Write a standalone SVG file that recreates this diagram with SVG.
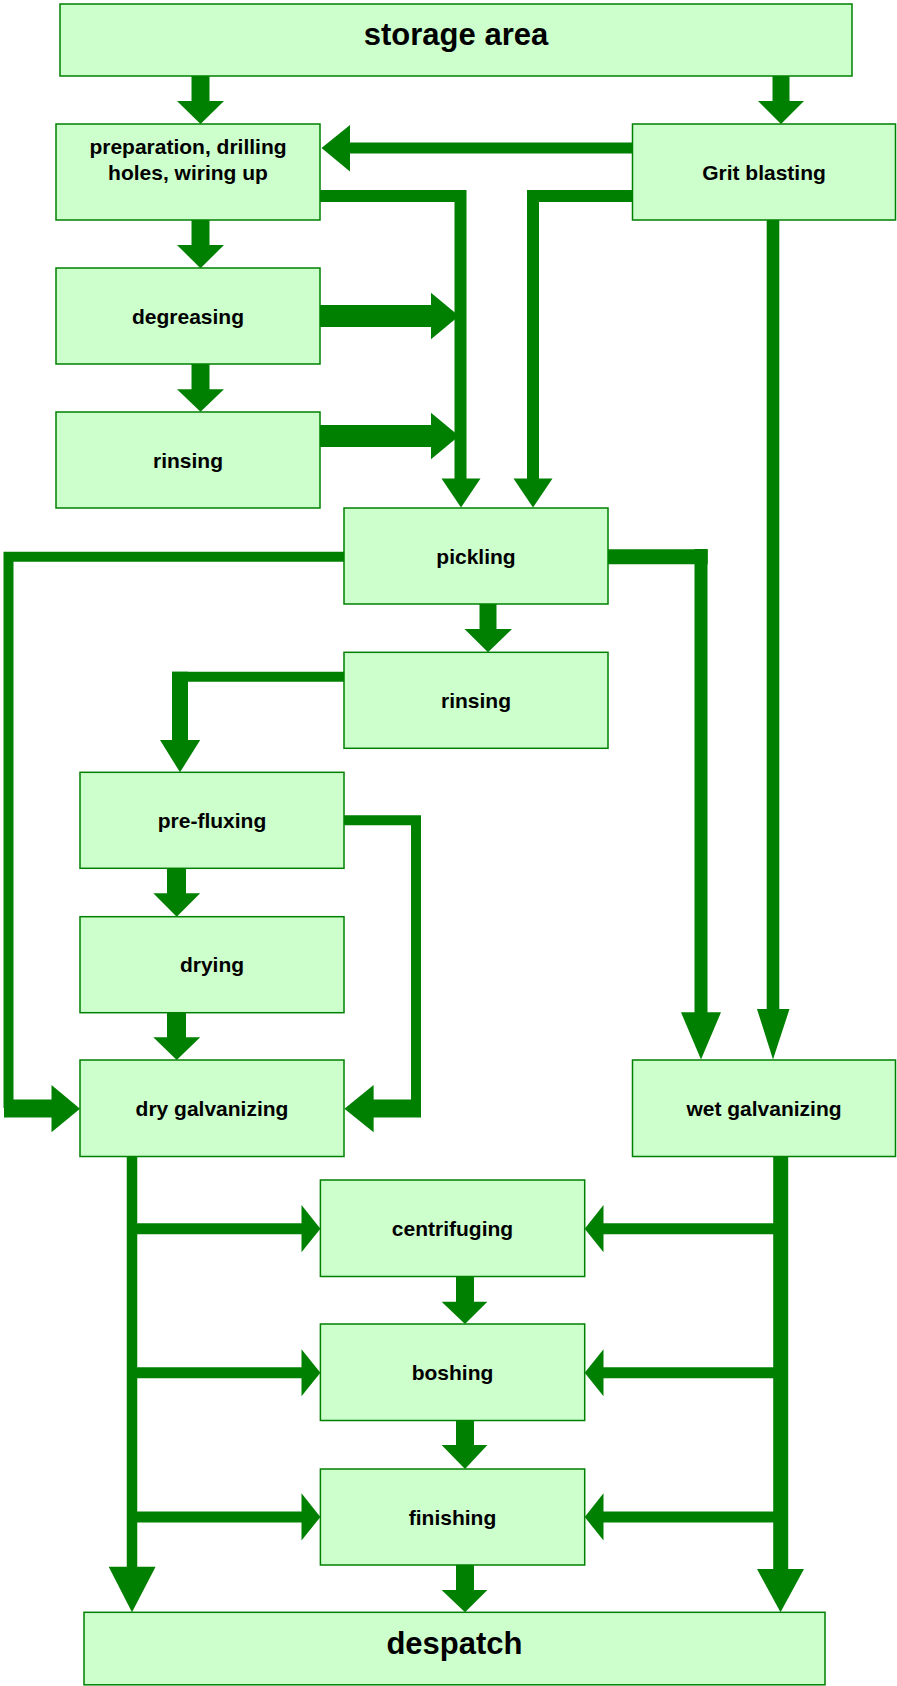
<svg xmlns="http://www.w3.org/2000/svg" width="897" height="1686" viewBox="0 0 897 1686">
<style>
.box{fill:#ccffcc;stroke:#008000;stroke-width:1.5}
.t{font-family:"Liberation Sans",Arial,sans-serif;font-weight:bold;font-size:21px;fill:#000;text-anchor:middle}
.tb{font-size:31px}
.c{stroke:#008000;fill:none;stroke-linecap:butt;stroke-linejoin:miter}
.h{fill:#008000;stroke:none}
</style>
<rect width="897" height="1686" fill="#ffffff"/>
<g id="connectors">
  <!-- storage -> prep -->
  <line class="c" x1="200.5" y1="76" x2="200.5" y2="102" stroke-width="18"/>
  <polygon class="h" points="177,101 224,101 200.5,124"/>
  <!-- storage -> grit -->
  <line class="c" x1="781" y1="76" x2="781" y2="102" stroke-width="17"/>
  <polygon class="h" points="758,101 804,101 781,124"/>
  <!-- grit -> prep -->
  <line class="c" x1="632" y1="148" x2="349" y2="148" stroke-width="11"/>
  <polygon class="h" points="350,125 350,171.5 321.5,148"/>
  <!-- prep -> pickling -->
  <polyline class="c" points="320,196 460.5,196 460.5,480" stroke-width="12"/>
  <polygon class="h" points="441.5,478.5 480.5,478.5 461,507.5"/>
  <!-- grit -> pickling -->
  <polyline class="c" points="632,196 533,196 533,480" stroke-width="12"/>
  <polygon class="h" points="513.5,478.5 552.5,478.5 533,507.5"/>
  <!-- prep -> degreasing -->
  <line class="c" x1="200.5" y1="220" x2="200.5" y2="246" stroke-width="18"/>
  <polygon class="h" points="177,245 224,245 200.5,268.3"/>
  <!-- degreasing -> line -->
  <line class="c" x1="320" y1="316" x2="432" y2="316" stroke-width="22"/>
  <polygon class="h" points="431,292.7 431,339.3 459,316"/>
  <!-- degreasing -> rinsing -->
  <line class="c" x1="200.5" y1="364" x2="200.5" y2="390" stroke-width="18"/>
  <polygon class="h" points="177,389.3 224,389.3 200.5,411.7"/>
  <!-- rinsing -> line -->
  <line class="c" x1="320" y1="436" x2="432" y2="436" stroke-width="22"/>
  <polygon class="h" points="431,412.7 431,459.3 459,436"/>
  <!-- pickling -> dry galvanizing (left loop) -->
  <polyline class="c" points="344,556.7 8.5,556.7 8.5,1108" stroke-width="10"/>
  <line class="c" x1="4" y1="1108.5" x2="53" y2="1108.5" stroke-width="18"/>
  <polygon class="h" points="51.5,1085 51.5,1132.3 80,1108.7"/>
  <!-- pickling -> wet galvanizing -->
  <line class="c" x1="608" y1="556.7" x2="707.7" y2="556.7" stroke-width="15"/>
  <line class="c" x1="701" y1="549" x2="701" y2="1014" stroke-width="13"/>
  <polygon class="h" points="681,1012.3 721,1012.3 701,1059.5"/>
  <!-- grit -> wet galvanizing -->
  <line class="c" x1="773" y1="220" x2="773" y2="1011" stroke-width="12.6"/>
  <polygon class="h" points="757,1009 789.5,1009 773,1059.5"/>
  <!-- pickling -> rinsing -->
  <line class="c" x1="488" y1="604" x2="488" y2="630" stroke-width="17"/>
  <polygon class="h" points="464.5,629 512,629 488,652.3"/>
  <!-- rinsing -> pre-fluxing -->
  <line class="c" x1="344" y1="676.7" x2="172" y2="676.7" stroke-width="10"/>
  <line class="c" x1="180" y1="671.7" x2="180" y2="741" stroke-width="16"/>
  <polygon class="h" points="160,740 200.2,740 180,772.3"/>
  <!-- pre-fluxing -> dry galvanizing (right loop) -->
  <polyline class="c" points="344,820.3 416,820.3 416,1108" stroke-width="10"/>
  <line class="c" x1="421" y1="1108.5" x2="372" y2="1108.5" stroke-width="18"/>
  <polygon class="h" points="373.6,1085 373.6,1132.3 344.4,1108.7"/>
  <!-- pre-fluxing -> drying -->
  <line class="c" x1="176.5" y1="868" x2="176.5" y2="894.5" stroke-width="19"/>
  <polygon class="h" points="153.3,893.3 200.2,893.3 176.7,916.7"/>
  <!-- drying -> dry galvanizing -->
  <line class="c" x1="176.5" y1="1012" x2="176.5" y2="1038.5" stroke-width="19"/>
  <polygon class="h" points="153.3,1037.3 200.2,1037.3 176.7,1060"/>
  <!-- dry galvanizing trunk -->
  <line class="c" x1="132" y1="1156" x2="132" y2="1568" stroke-width="10.5"/>
  <polygon class="h" points="108.7,1566.7 155.6,1566.7 132,1612.3"/>
  <line class="c" x1="132" y1="1228.7" x2="302.5" y2="1228.7" stroke-width="11"/>
  <polygon class="h" points="301.5,1205 301.5,1252.3 320.4,1228.7"/>
  <line class="c" x1="132" y1="1372.8" x2="302.5" y2="1372.8" stroke-width="11"/>
  <polygon class="h" points="301.5,1349.3 301.5,1396.3 320.4,1372.8"/>
  <line class="c" x1="132" y1="1517" x2="302.5" y2="1517" stroke-width="11"/>
  <polygon class="h" points="301.5,1493.3 301.5,1540.5 320.4,1517"/>
  <!-- wet galvanizing trunk -->
  <line class="c" x1="780.7" y1="1156" x2="780.7" y2="1570" stroke-width="15"/>
  <polygon class="h" points="757,1569 804,1569 780.5,1612.3"/>
  <line class="c" x1="781" y1="1228.7" x2="602.5" y2="1228.7" stroke-width="11"/>
  <polygon class="h" points="603.5,1205 603.5,1252.3 584.7,1228.7"/>
  <line class="c" x1="781" y1="1372.8" x2="602.5" y2="1372.8" stroke-width="11"/>
  <polygon class="h" points="603.5,1349.3 603.5,1396.3 584.7,1372.8"/>
  <line class="c" x1="781" y1="1517" x2="602.5" y2="1517" stroke-width="11"/>
  <polygon class="h" points="603.5,1493.3 603.5,1540.5 584.7,1517"/>
  <!-- centrifuging -> boshing -> finishing -> despatch -->
  <line class="c" x1="465" y1="1276" x2="465" y2="1302.5" stroke-width="18"/>
  <polygon class="h" points="441.6,1301.7 487.4,1301.7 465,1324"/>
  <line class="c" x1="465" y1="1420" x2="465" y2="1446" stroke-width="18"/>
  <polygon class="h" points="441.6,1445 487.4,1445 465,1469"/>
  <line class="c" x1="465" y1="1564.5" x2="465" y2="1591" stroke-width="18"/>
  <polygon class="h" points="441.6,1590 487.4,1590 465,1612.3"/>
</g>
<g id="storage"><rect class="box" x="60" y="4" width="792" height="72"/><text class="t tb" x="456" y="45">storage area</text></g>
<g id="preparation"><rect class="box" x="56" y="124" width="264" height="96"/><text class="t" x="188" y="154">preparation, drilling</text><text class="t" x="188" y="180">holes, wiring up</text></g>
<g id="grit"><rect class="box" x="632.5" y="124" width="263" height="96"/><text class="t" x="764" y="180">Grit blasting</text></g>
<g id="degreasing"><rect class="box" x="56" y="268" width="264" height="96"/><text class="t" x="188" y="323.5">degreasing</text></g>
<g id="rinsing1"><rect class="box" x="56" y="412" width="264" height="96"/><text class="t" x="188" y="467.5">rinsing</text></g>
<g id="pickling"><rect class="box" x="344" y="508" width="264" height="96"/><text class="t" x="476" y="563.5">pickling</text></g>
<g id="rinsing2"><rect class="box" x="344" y="652.3" width="264" height="96"/><text class="t" x="476" y="708">rinsing</text></g>
<g id="prefluxing"><rect class="box" x="80" y="772.3" width="264" height="96"/><text class="t" x="212" y="828">pre-fluxing</text></g>
<g id="drying"><rect class="box" x="80" y="916.7" width="264" height="96"/><text class="t" x="212" y="972">drying</text></g>
<g id="dry-galvanizing"><rect class="box" x="80" y="1060" width="264" height="96.5"/><text class="t" x="212" y="1115.5">dry galvanizing</text></g>
<g id="wet-galvanizing"><rect class="box" x="632.5" y="1060" width="263" height="96.5"/><text class="t" x="764" y="1115.5">wet galvanizing</text></g>
<g id="centrifuging"><rect class="box" x="320.4" y="1180" width="264.3" height="96.5"/><text class="t" x="452.5" y="1235.5">centrifuging</text></g>
<g id="boshing"><rect class="box" x="320.4" y="1324" width="264.3" height="96.5"/><text class="t" x="452.5" y="1379.5">boshing</text></g>
<g id="finishing"><rect class="box" x="320.4" y="1469" width="264.3" height="96"/><text class="t" x="452.5" y="1524.5">finishing</text></g>
<g id="despatch"><rect class="box" x="84" y="1612.3" width="741" height="72.5"/><text class="t tb" x="454.5" y="1654">despatch</text></g>
</svg>
